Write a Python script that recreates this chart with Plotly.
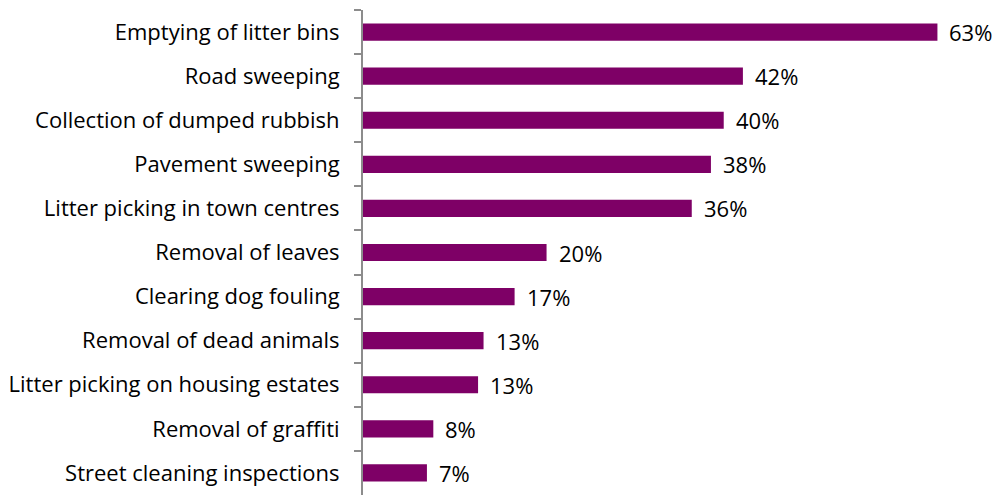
import plotly.graph_objects as go

categories = [
    "Emptying of litter bins",
    "Road sweeping",
    "Collection of dumped rubbish",
    "Pavement sweeping",
    "Litter picking in town centres",
    "Removal of leaves",
    "Clearing dog fouling",
    "Removal of dead animals",
    "Litter picking on housing estates",
    "Removal of graffiti",
    "Street cleaning inspections",
]
values = [62.9, 41.6, 39.5, 38.1, 36.0, 20.1, 16.6, 13.2, 12.6, 7.7, 7.0]
labels = ["63%", "42%", "40%", "38%", "36%", "20%", "17%", "13%", "13%", "8%", "7%"]

FONT = "Open Sans"
FSIZE = 22
BAR = "#7E0066"
AXIS = "#8C8C8C"

fig = go.Figure()
fig.add_trace(go.Bar(
    y=categories, x=values, orientation="h",
    marker=dict(color=BAR, line=dict(width=0)),
    hoverinfo="skip",
))
for c, v, t in zip(categories, values, labels):
    fig.add_annotation(x=v, y=c, text=t, showarrow=False, xanchor="left",
                       xshift=10, font=dict(family=FONT, size=FSIZE, color="#000000"))

fig.update_layout(
    width=1000, height=495,
    margin=dict(l=363, r=16, t=10, b=0),
    paper_bgcolor="white", plot_bgcolor="white",
    bargap=0.61,
    showlegend=False,
    font=dict(family=FONT, size=FSIZE, color="#000000"),
)
fig.update_xaxes(range=[0, 68], visible=False, showgrid=False, zeroline=False)
fig.update_yaxes(
    autorange="reversed", showline=True, linecolor=AXIS, linewidth=2,
    ticks="outside", tickson="boundaries", ticklen=7, tickcolor=AXIS, tickwidth=2,
    showgrid=False, ticklabelstandoff=17,
    tickfont=dict(family=FONT, size=FSIZE, color="#000000"),
)
fig.write_html("out.html")
